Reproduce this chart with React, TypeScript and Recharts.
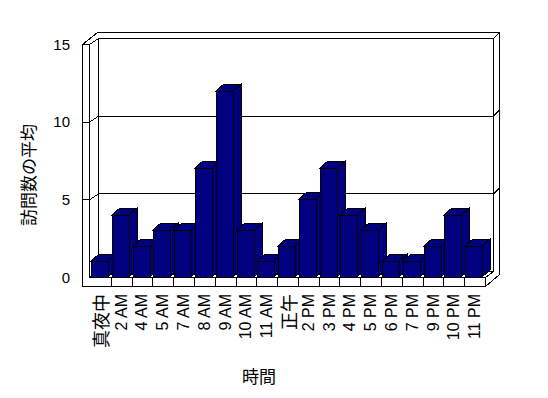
import React from 'react';
import { BarChart, Bar, XAxis, YAxis, CartesianGrid } from 'recharts';

const hours = ['真夜中', '2 AM', '4 AM', '5 AM', '7 AM', '8 AM', '9 AM', '10 AM', '11 AM', '正午', '2 PM', '3 PM', '4 PM', '5 PM', '6 PM', '7 PM', '9 PM', '10 PM', '11 PM'];
const visits = [1, 4, 2, 3, 3, 7, 12, 3, 1, 2, 5, 7, 4, 3, 1, 1, 2, 4, 2];
const yTicks = [0, 5, 10, 15];
const xTitle = '時間';
const yTitle = '訪問数の平均';

const data = hours.map((h, i) => ({ hour: h, visits: visits[i] }));

const LATIN = "'Liberation Sans', Arial, 'Noto Sans CJK JP', sans-serif";
const CJK = "'Noto Sans CJK JP', 'Liberation Sans', sans-serif";
const BDX = 8;
const BDY = 7;

const Bar3D = (p: any) => {
  const { x, y, width, height, fill } = p;
  if (height == null || width == null) return null;
  const X = Math.round(x) - 1;
  const Y = Math.round(y);
  const W = Math.round(width);
  const H = Math.round(height);
  return (
    <g shapeRendering="crispEdges" stroke="#000" strokeWidth={1}>
      <polygon points={`${X + W},${Y} ${X + W + BDX},${Y - BDY} ${X + W + BDX},${Y + H - BDY} ${X + W},${Y + H}`} fill={fill} />
      <polygon points={`${X},${Y} ${X + BDX},${Y - BDY} ${X + W + BDX},${Y - BDY} ${X + W},${Y}`} fill={fill} />
      <rect x={X} y={Y} width={W} height={H} fill={fill} />
    </g>
  );
};

const gridLine = (p: any) => {
  const { x1, x2, y1, index, y, height } = p;
  const top = y;
  const bottom = y + height;
  const L = (pts: number[][], k: string) => (
    <polyline key={k} points={pts.map((q) => `${q[0] + 0.5},${q[1] + 0.5}`).join(' ')} fill="none" stroke="#000" strokeWidth={1} />
  );
  const els: any[] = [];
  const isBottom = Math.abs(y1 - bottom) < 0.5;
  if (!isBottom) {
    els.push(L([[x1 - 8, y1], [x1 - 1, y1], [x1 + 8, y1 - 6], [x2 + 8, y1 - 6], [x2 + 14, y1 - 12]], 'g'));
  }
  if (index === 0) {
    const n = hours.length;
    const bw = (x2 - x1) / n;
    els.push(L([[x1 - 8, top], [x1 - 8, bottom + 9]], 'lo'));
    els.push(L([[x1 - 1, top], [x1 - 1, bottom]], 'li'));
    els.push(L([[x1 + 8, top - 6], [x1 + 8, bottom - 6]], 'bl'));
    els.push(L([[x2 + 8, top - 6], [x2 + 8, bottom - 6]], 'ri'));
    els.push(L([[x2 + 14, top - 12], [x2 + 14, bottom - 3]], 'ro'));
    els.push(L([[x1 - 8, top], [x1 - 1, top], [x1 + 8, top - 6], [x2 + 8, top - 6], [x2 + 14, top - 12]], 'ti'));
    els.push(L([[x1 - 8, top], [x1 + 7, top - 12], [x2 + 14, top - 12]], 'to'));
    els.push(L([[x1 - 1, bottom], [x1 + 8, bottom - 6], [x2 + 8, bottom - 6]], 'fb'));
    els.push(L([[x1 - 1, bottom], [x2, bottom], [x2 + 8, bottom - 6]], 'ft'));
    els.push(L([[x1 - 8, bottom + 9], [x2, bottom + 9], [x2 + 14, bottom - 3]], 'fo'));
    for (let i = 1; i <= n; i++) {
      const xx = Math.round(x1 + i * bw);
      els.push(L([[xx, bottom], [xx, bottom + 9]], 'd' + i));
    }
  }
  return (
    <g key={p.key} shapeRendering="crispEdges">
      {els}
    </g>
  );
};

const XTick = (p: any) => {
  const { x, y, payload } = p;
  const v = String(payload.value);
  const cjk = /[\u3000-\u9fff]/.test(v);
  return (
    <text
      transform={`translate(${x},${y + 9}) rotate(-90)`}
      textAnchor="end"
      dominantBaseline="central"
      fontSize={cjk ? 18 : 16}
      fontFamily={cjk ? CJK : LATIN}
      fill="#000"
    >
      {v}
    </text>
  );
};

const YTick = (p: any) => {
  const { x, y, payload } = p;
  return (
    <text x={x - 12} y={y} textAnchor="end" dominantBaseline="central" fontSize={15} fontFamily={LATIN} fill="#000">
      {payload.value}
    </text>
  );
};

const XTitle = () => (
  <text x={259} y={375} textAnchor="middle" dominantBaseline="central" fontSize={17} fontFamily={CJK} fill="#000">
    {xTitle}
  </text>
);

const YTitle = () => (
  <text transform="translate(27,175) rotate(-90)" textAnchor="middle" dominantBaseline="central" fontSize={17} fontFamily={CJK} fill="#000">
    {yTitle}
  </text>
);

export default function App() {
  return (
    <div style={{ position: 'absolute', left: 0, top: 0, width: 548, height: 398, background: '#fff' }}>
      <BarChart width={548} height={398} data={data} margin={{ top: 44, right: 63, left: 30, bottom: 91 }}>
        <CartesianGrid vertical={false} horizontal={gridLine} />
        <XAxis
          dataKey="hour"
          height={30}
          interval={0}
          axisLine={false}
          tickLine={false}
          tick={<XTick />}
          label={<XTitle />}
        />
        <YAxis
          width={60}
          domain={[0, 15]}
          ticks={yTicks}
          interval={0}
          axisLine={false}
          tickLine={false}
          tick={<YTick />}
          label={<YTitle />}
        />
        <Bar dataKey="visits" fill="#000080" barSize={17} isAnimationActive={false} shape={<Bar3D />} />
      </BarChart>
    </div>
  );
}
